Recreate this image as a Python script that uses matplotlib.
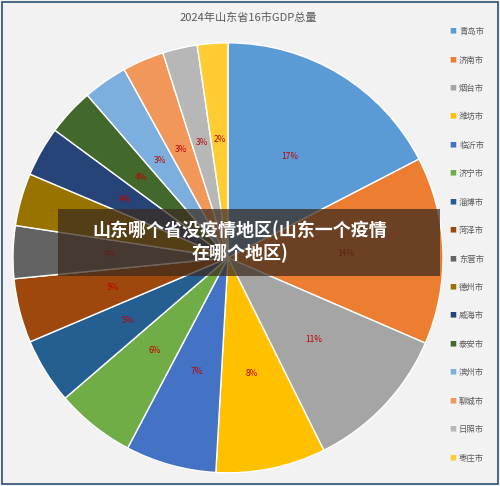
import matplotlib.pyplot as plt
from matplotlib.patches import Rectangle

plt.rcParams['font.family'] = ['Noto Sans CJK SC', 'DejaVu Sans']

cities = ["青岛市", "济南市", "烟台市", "潍坊市", "临沂市", "济宁市", "淄博市", "菏泽市",
          "东营市", "德州市", "威海市", "泰安市", "滨州市", "聊城市", "日照市", "枣庄市"]
gdp = [16719, 13527, 10714, 7924, 6555, 5716, 4740, 4640,
       3800, 3800, 3600, 3400, 3200, 3000, 2500, 2200]
colors = ["#5B9BD5", "#ED7D31", "#A5A5A5", "#FFC000", "#4472C4", "#70AD47", "#255E91", "#9E480E",
          "#636363", "#997300", "#264478", "#43682B", "#7CAFDD", "#F1975A", "#B7B7B7", "#FFCD33"]

fig = plt.figure(figsize=(5.0, 4.86), dpi=100)
fig.patch.set_facecolor("#f2f2f2")
fig.add_artist(Rectangle((0.004, 0.004), 0.992, 0.992, transform=fig.transFigure,
                         fill=False, edgecolor="#2f4f6f", linewidth=1.2))

ax = fig.add_axes([0.026, 0.027, 0.86, 0.885])
wedges, texts, autotexts = ax.pie(gdp, colors=colors, startangle=90, counterclock=False,
                                  autopct="%1.0f%%", pctdistance=0.55,
                                  wedgeprops=dict(edgecolor="white", linewidth=1),
                                  textprops=dict(fontsize=6, color="#c00000"))
ax.set_xlim(-1.0, 1.0)
ax.set_ylim(-1.0, 1.0)
ax.set_aspect("equal")

fig.text(0.496, 0.963, "2024年山东省16市GDP总量", ha="center", va="center", fontsize=8, color="#595959")

for i, (c, col) in enumerate(zip(cities, colors)):
    y = 0.935 - i * 0.0585
    fig.text(0.905, y, "■", color=col, fontsize=5, ha="center", va="center")
    fig.text(0.918, y, c, color="#595959", fontsize=6, ha="left", va="center")

fig.add_artist(Rectangle((0.116, 0.432), 0.764, 0.138, transform=fig.transFigure,
                         facecolor="#3a2a1e", alpha=0.72, edgecolor="none"))
fig.text(0.48, 0.502, "山东哪个省没疫情地区(山东一个疫情\n在哪个地区)", ha="center", va="center",
         fontsize=13, color="white", fontweight="bold", linespacing=1.2)

fig.savefig("out.png", facecolor=fig.get_facecolor())
